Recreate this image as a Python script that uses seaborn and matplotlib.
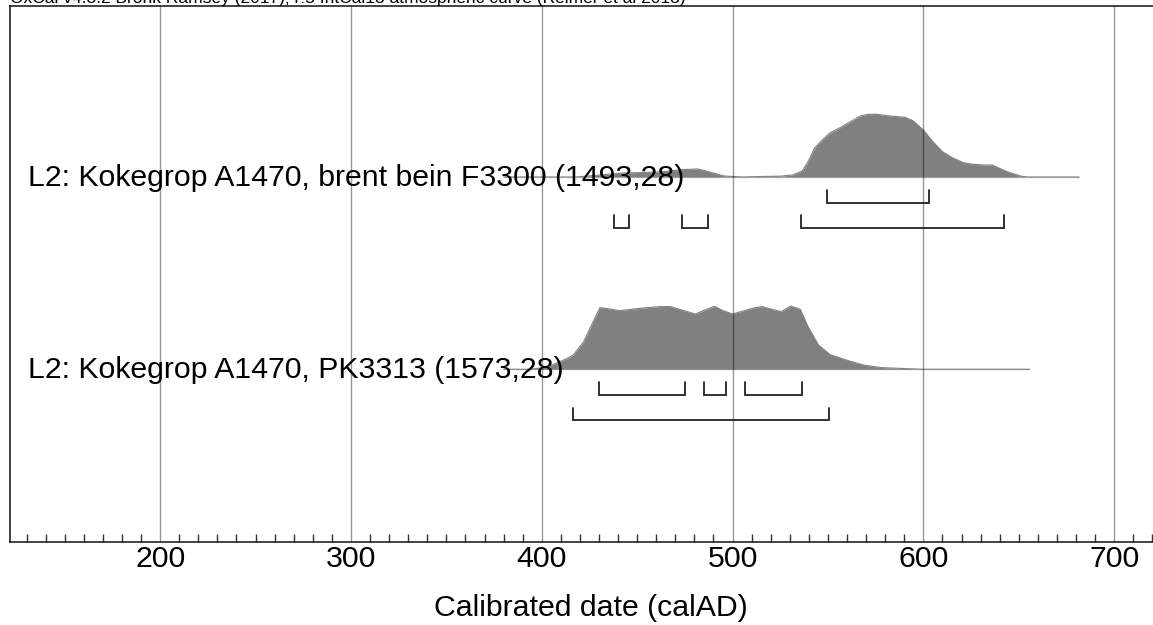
import numpy as np
import pandas as pd
import matplotlib.pyplot as plt
import matplotlib.transforms as mtransforms
import seaborn as sns

# OxCal-style calibrated date plot
header = "OxCal v4.3.2 Bronk Ramsey (2017); r:5 IntCal13 atmospheric curve (Reimer et al 2013)"
labels = ["L2: Kokegrop A1470, brent bein F3300 (1493,28)",
          "L2: Kokegrop A1470, PK3313 (1573,28)"]

# probability curves (relative heights)
f3300_year = [380, 418, 430.5, 443, 462, 474.5, 482, 488, 495.5, 505.5, 514.5, 525,
              531.5, 536.5, 539.5, 543, 547, 551, 556, 561.5, 567, 571, 575.5,
              582.5, 590.5, 594.5, 600, 605, 610, 615.5, 621, 626, 632, 636,
              644, 651.5, 655, 681.5]
f3300_prob = [0, 0, 2, 4, 5, 7.5, 8, 5, 1, 0, 0.5, 0.8,
              2, 6, 15, 29, 37, 44, 49, 55, 61, 62.7, 62.7,
              61, 59.7, 56.3, 47, 35.3, 25.3, 19, 14.3, 12.7, 12, 12,
              5.2, 0.7, 0, 0]

pk3313_year = [380, 394, 402, 407.5, 413.5, 416.5, 422, 426.5, 430.5, 441, 451.5,
               462, 467.5, 474.5, 480.5, 485.5, 490.5, 495, 500, 505.5, 511,
               515.5, 520.5, 525.5, 530.5, 535.5, 539.5, 545, 551, 560, 569,
               578, 590.5, 600, 655.6]
pk3313_prob = [0, 0, 2, 6, 11, 14.3, 27.7, 46, 61.7, 58.7, 61,
               62.7, 62.7, 58.7, 55.3, 59.3, 63, 58.7, 55.3, 58.3, 61.3,
               62.7, 60, 57.7, 63.3, 60, 42.7, 24.3, 14.8, 9, 4.1,
               1.7, 0.7, 0, 0]

# 68.2% and 95.4% ranges
f3300_r68 = [(549.6, 602.8)]
f3300_r95 = [(437.9, 445.6), (473.6, 487.2), (535.7, 642.5)]
pk3313_r68 = [(429.8, 475.2), (485.1, 496.6), (506.5, 536.2)]
pk3313_r95 = [(416.4, 550.8)]

xticks = [200, 300, 400, 500, 600, 700]

sns.set_style("white")
plt.rcParams["font.family"] = ["Liberation Sans", "DejaVu Sans"]
plt.rcParams["text.color"] = "black"
plt.rcParams["axes.labelcolor"] = "black"

fig = plt.figure(figsize=(11.53, 6.25), dpi=100)
ax = fig.add_axes([10 / 1153, 83 / 625, 1161.4 / 1153, 536.5 / 625])
ax.set_xlim(121.3, 730)
ax.set_ylim(0, 536.5)

dists = [
    (f3300_year, f3300_prob, f3300_r68, f3300_r95, 365, labels[0]),
    (pk3313_year, pk3313_prob, pk3313_r68, pk3313_r95, 172.7, labels[1]),
]

trans = mtransforms.blended_transform_factory(ax.transAxes, ax.transData)

for years, probs, r68, r95, base, lab in dists:
    df = pd.DataFrame({"year": years, "prob": np.array(probs) + base})
    ax.fill_between(df["year"], base, df["prob"], color="#808080", lw=0, zorder=2)
    sns.lineplot(data=df, x="year", y="prob", color="#808080", lw=0.8,
                 ax=ax, zorder=2, legend=False)
    ax.plot([years[0], years[-1]], [base, base], color="#c8c8c8", lw=1, zorder=1)
    # range brackets
    for off, ranges in [(25.5, r68), (50.7, r95)]:
        yb = base - off
        for a, b in ranges:
            ax.plot([a, a, b, b], [yb + 12.5, yb, yb, yb + 12.5],
                    color="#222222", lw=1.3, zorder=4, solid_joinstyle="miter")
    ax.text(0.0155, base - 9, lab, transform=trans, fontsize=21.8,
            va="baseline", ha="left", color="black", zorder=5)

for xv in xticks:
    ax.axvline(xv, color="black", alpha=0.4, lw=1, zorder=3)

ax.set_xticks(xticks)
ax.set_xticks(np.arange(130, 730, 10), minor=True)
ax.set_yticks([])
ax.tick_params(axis="x", which="major", direction="in", length=14, width=1.2,
               labelsize=21.8, pad=2, color="#222222", labelcolor="black")
ax.tick_params(axis="x", which="minor", direction="in", length=6, width=1,
               color="#333333", bottom=True)
ax.set_xlabel("Calibrated date (calAD)", fontsize=21.8, labelpad=15, color="black")
ax.set_ylabel("")

for side in ["left", "bottom", "top", "right"]:
    ax.spines[side].set_color("#222222")
    ax.spines[side].set_linewidth(1.2)

fig.text(10 / 1153, 1 - 3.5 / 625, header, fontsize=12.5, va="baseline", ha="left")

fig.savefig("out.png", dpi=100)
